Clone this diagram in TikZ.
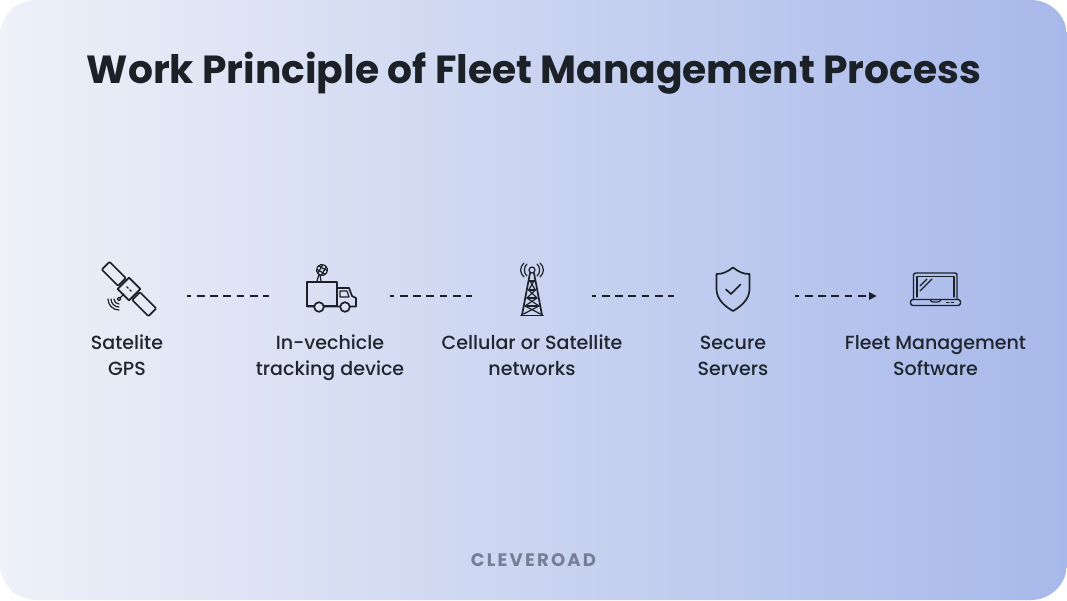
\documentclass[tikz,border=0pt]{standalone}
\usepackage{fontspec}
\setmainfont{Poppins}
\newfontfamily\titlef{Poppins}[UprightFont=* Bold]
\newfontfamily\labelf{Poppins}[UprightFont=* Medium]
\newfontfamily\brandf{Poppins}[UprightFont=* Bold,LetterSpace=12]
\definecolor{ink}{HTML}{1C2128}
\definecolor{lbl}{HTML}{20262F}
\definecolor{brand}{HTML}{787F95}
\definecolor{padA}{HTML}{DEE3F4}
\definecolor{padB}{HTML}{DCE2F4}
\tikzset{
  x=1pt,y=-1pt,
  iconline/.style={draw=ink,line width=1.7pt,line join=round,line cap=round},
  thinline/.style={draw=ink,line width=1.2pt,line join=round,line cap=round},
  link/.style={draw=ink,line width=1.2pt,dash pattern=on 7.7pt off 5.6pt,dash phase=3.5pt},
  label/.style={font=\labelf\fontsize{19.05}{26.2}\selectfont,text=lbl,align=center,inner sep=0pt,anchor=center},
}
\begin{document}
\begin{tikzpicture}
\useasboundingbox (0,0) rectangle (1067,600);
\fill[white] (0,0) rectangle (1067,600);
\shade[rounded corners=36pt,left color={rgb,255:red,238;green,241;blue,248},middle color={rgb,255:red,211;green,219;blue,243},right color={rgb,255:red,167;green,184;blue,234}] (0,0) rectangle (1067,600);
\node[font=\titlef\fontsize{39.2}{46}\selectfont,text=ink,inner sep=0pt] (title) at (534,73.5) {Work Principle of Fleet Management Process};

% connector ends
\coordinate (s1) at (187,296); \coordinate (e1) at (269,296);
\coordinate (s2) at (390,296); \coordinate (e2) at (472,296);
\coordinate (s3) at (592,296); \coordinate (e3) at (674,296);
\coordinate (s4) at (795,296); \coordinate (e4) at (869,296);
\draw[link] (s1) -- (e1);
\draw[link] (s2) -- (e2);
\draw[link] (s3) -- (e3);
\draw[link] (s4) -- (e4);
\fill[ink] (869,292) -- (876.5,296) -- (869,300) -- cycle;

% satellite
\begin{scope}[shift={(129,289)},rotate=-45]
  \draw[iconline] (-8,-8) rectangle (8,8);
  \draw[thinline] (-3,0) -- (-1,0) (1,0) -- (3,0);
  \draw[iconline,rounded corners=1pt] (-33,-5.5) rectangle (-10,5.5);
  \draw[iconline,rounded corners=1pt] (10,-5.5) rectangle (33,5.5);
\end{scope}
\draw[thinline] (124,294) -- (120.5,297.5);
\draw[thinline] (119,299) circle (1.8);
\foreach \r in {5,8,11}{\draw[thinline] (119-\r,299) .. controls (119-\r,299+.55*\r) and (119-.55*\r,299+\r) .. (119,299+\r);}

% truck
\draw[iconline] (307,282) rectangle (337,306);
\draw[iconline] (337,288) -- (349,288) -- (352,296) -- (356,298) -- (356,306.5) -- (307,306.5);
\draw[thinline] (340,291) -- (347,291) -- (349,297) -- (340,297) -- cycle;
\draw[iconline,fill=padA] (319,307) circle (4.8);
\draw[iconline,fill=padB] (345,307) circle (4.8);
\draw[thinline] (317,281) -- (319,274) (321,281) -- (320,275);
\begin{scope}[shift={(322,270)},rotate=-30]
  \draw[thinline] (0,0) circle (5.5);
  \draw[thinline] (-5,-2) -- (5,-2) (-5,2) -- (5,2) (-2,-5) -- (-2,5) (2,-5) -- (2,5);
\end{scope}

% tower
\draw[thinline] (532,270) circle (3);
\draw[iconline] (530,273) -- (522,315) (534,273) -- (542,315);
\draw[iconline] (521,315.5) -- (543,315.5);
\draw[thinline] (528.7,281) -- (535.3,281) (528.7,290) -- (535.3,290) (527,298) -- (537,298) (525,306) -- (539,306);
\draw[thinline] (530,281) -- (535.3,290) -- (527,298) -- (539,306) -- (523.5,314);
\draw[thinline] (534,281) -- (528.7,290) -- (537,298) -- (525,306) -- (540.5,314);
\draw[thinline] (527,264) .. controls (523.5,267) and (523.5,273) .. (527,276);
\draw[thinline] (537,264) .. controls (540.5,267) and (540.5,273) .. (537,276);
\draw[thinline] (524,263) .. controls (519.5,267) and (519.5,273) .. (524,277);
\draw[thinline] (540,263) .. controls (544.5,267) and (544.5,273) .. (540,277);

% shield
\draw[iconline] (733,267.5) .. controls (727,272) and (723,274) .. (716.5,274) -- (716.5,289) .. controls (716.5,300) and (726,307) .. (733,311) .. controls (740,307) and (749.5,300) .. (749.5,289) -- (749.5,274) .. controls (743,274) and (739,272) .. (733,267.5) -- cycle;
\draw[iconline] (726,289.5) -- (731,294) -- (740.5,284.5);

% laptop
\draw[iconline,line width=1.4pt,rounded corners=2pt] (913.5,299) -- (913.5,273) -- (957,273) -- (957,299);
\draw[thinline] (917,297) -- (917,276.5) -- (954,276.5) -- (954,297);
\draw[iconline,line width=1.4pt,rounded corners=2.5pt] (910.5,299.5) rectangle (960.5,305.5);
\draw[thinline] (930,299.5) .. controls (931,302) and (932,302) .. (934,302) -- (937,302) .. controls (939,302) and (940,302) .. (941,299.5);
\draw[thinline] (946.5,302.5) -- (949,302.5) (951.5,302.5) -- (953.5,302.5);
\draw[thinline] (920,286) -- (927,279) (920,291) -- (932,279);

% labels
\node[label] (l1) at (127,357.5) {\strut Satelite\\\strut GPS};
\node[label] (l2) at (330,357.5) {\strut In-vechicle\\\strut tracking device};
\node[label] (l3) at (532,357.5) {\strut Cellular or Satellite\\\strut networks};
\node[label] (l4) at (733,357.5) {\strut Secure\\\strut Servers};
\node[label] (l5) at (935.5,357.5) {\strut Fleet Management\\\strut Software};
\node[font=\brandf\fontsize{18.1}{20}\selectfont,text=brand,inner sep=0pt] (brand) at (533.5,560) {CLEVEROAD};
\end{tikzpicture}
\end{document}
